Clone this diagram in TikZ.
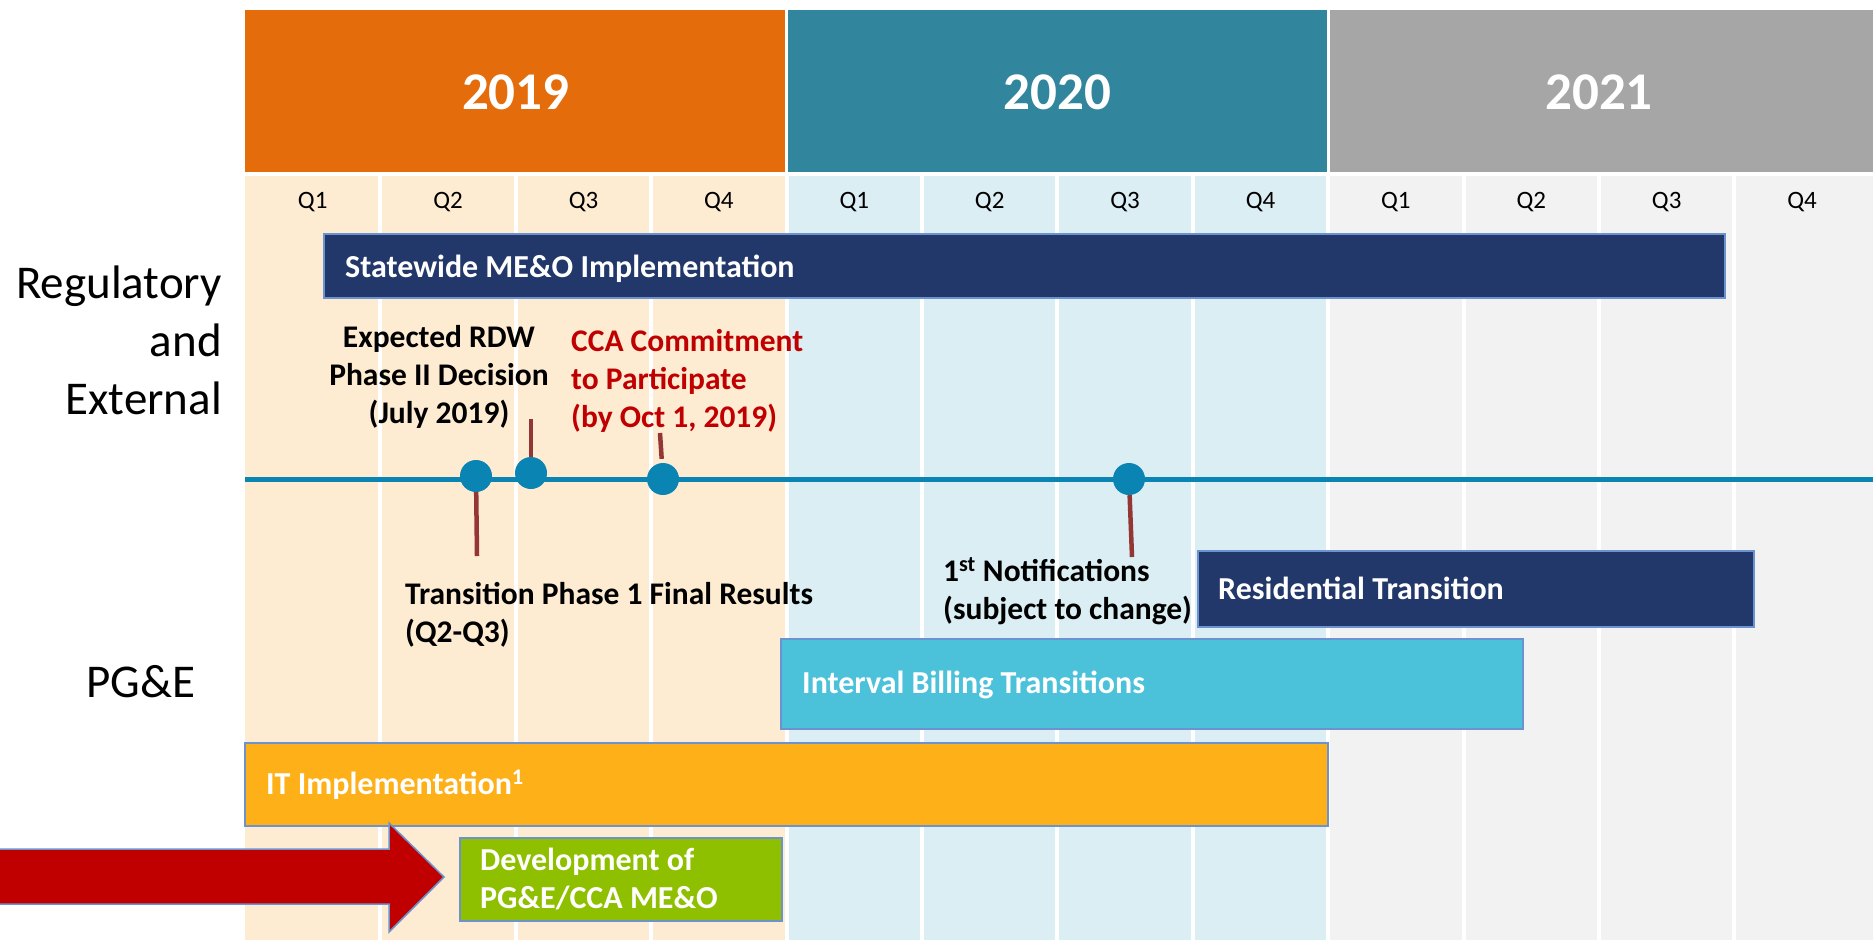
\documentclass[tikz,border=0pt]{standalone}
\usepackage{fontspec}
\setmainfont{Carlito}
\usepackage{tikz}
\usetikzlibrary{calc}
\definecolor{hdA}{HTML}{E46C0A}
\definecolor{hdB}{HTML}{31859C}
\definecolor{hdC}{HTML}{A6A6A6}
\definecolor{bgA}{HTML}{FDEBD2}
\definecolor{bgB}{HTML}{DAEEF3}
\definecolor{bgC}{HTML}{F2F2F2}
\definecolor{navy}{HTML}{22386A}
\definecolor{sky}{HTML}{4BC1DA}
\definecolor{amber}{HTML}{FDB017}
\definecolor{lime}{HTML}{8FC000}
\definecolor{crimson}{HTML}{C00000}
\definecolor{tline}{HTML}{0A84B2}
\definecolor{stemred}{HTML}{943634}
\definecolor{rim}{HTML}{6C93CF}
\tikzset{
  year/.style={text=white, font=\fontsize{53}{60}\selectfont\bfseries},
  qtr/.style={font=\fontsize{25}{28}\selectfont},
  side/.style={font=\fontsize{47}{58}\selectfont, inner sep=0pt},
  bar/.style={draw=rim, line width=1.5pt},
  bartext/.style={text=white, font=\fontsize{32}{38}\selectfont\bfseries, inner sep=0pt, anchor=base west, align=left},
  note/.style={font=\fontsize{31.5}{38}\selectfont\bfseries, inner sep=0pt},
  dot/.style={circle, fill=tline, inner sep=0pt, minimum size=32pt},
  pin/.style={draw=stemred, line width=4.5pt},
}

\begin{document}
\begin{tikzpicture}[x=1pt,y=-1pt]
  \def\q{135.4}
  \useasboundingbox (0,0) rectangle (1873,940);
  \fill[bgA] (245,176) rectangle ({245+4*\q},940);
  \fill[bgB] ({245+4*\q},176) rectangle ({245+8*\q},940);
  \fill[bgC] ({245+8*\q},176) rectangle (1873,940);
  \foreach \k in {1,...,11}
    \draw[white, line width=4pt] ({245+\k*\q},176) -- ({245+\k*\q},940);
  \fill[hdA] (245,10) rectangle ({245+4*\q-1.5},172);
  \fill[hdB] ({245+4*\q+1.5},10) rectangle ({245+8*\q-1.5},172);
  \fill[hdC] ({245+8*\q+1.5},10) rectangle (1873,172);
  \foreach \y/\n in {0/2019,1/2020,2/2021}
    \node[year] (y\n) at ({245+(4*\y+2)*\q},92) {\n};
  \foreach \k in {0,...,11}{
    \pgfmathtruncatemacro{\qn}{mod(\k,4)+1}
    \node[qtr] (q\k) at ({245+(\k+0.5)*\q},202) {Q\qn};
  }

  \node[side, align=right, anchor=base east] (reg) at (222,414) {Regulatory\\and\\External};
  \node[side, anchor=base] (pge) at (141,697) {PG\&E};

  \draw[bar, fill=navy] (324,234) rectangle (1725,298);
  \node[bartext] (meo) at (345,277) {Statewide ME\&O Implementation};

  \coordinate (t0) at (245,479);
  \coordinate (t1) at (1873,479);
  \draw[tline, line width=5pt] (t0) -- (t1);
  \node[dot] (d1) at (476,476) {};
  \node[dot] (d2) at (531,473) {};
  \node[dot] (d3) at (663,479) {};
  \node[dot] (d4) at (1129,479) {};
  \coordinate (p1) at (477,556);
  \coordinate (p2) at (531,419);
  \coordinate (p3) at (660,433);
  \coordinate (p4) at (1132,557);
  \draw[pin] (d1) -- (p1);
  \draw[pin] (d2) -- (p2);
  \draw[pin, shorten <=4pt] (d3) -- (p3);
  \draw[pin] (d4) -- (p4);

  \node[note, align=center, anchor=base] (rdw) at (439,423) {Expected RDW\\Phase II Decision\\(July 2019)};
  \node[note, align=left, anchor=base west, text=crimson] (cca) at (571,427) {CCA Commitment\\to Participate\\(by Oct 1, 2019)};
  \node[note, align=left, anchor=base west] (res) at (405,642) {Transition Phase 1 Final Results\\(Q2-Q3)};

  \draw[bar, fill=navy] (1198,551) rectangle (1754,627);
  \node[bartext] (rt) at (1218,599) {Residential Transition};
  \node[note, align=left, anchor=base west] (ntf) at (943,619) {1\textsuperscript{st} Notifications\\(subject to change)};

  \draw[bar, fill=sky] (781,639) rectangle (1523,729);
  \node[bartext] (ibt) at (802,693) {Interval Billing Transitions};

  \draw[bar, fill=amber] (245,743) rectangle (1328,826);
  \node[bartext] (it) at (266,794) {IT Implementation\textsuperscript{1}};

  \draw[bar, fill=lime] (460,838) rectangle (782,921);
  \node[bartext] (dev) at (480,908) {Development of\\PG\&E/CCA ME\&O};

  \draw[fill=crimson, draw=rim, line width=1.5pt] (-5,849) -- (389,849) -- (389,823) -- (444,877)
    -- (389,932) -- (389,904) -- (-5,904) -- cycle;
\end{tikzpicture}
\end{document}
